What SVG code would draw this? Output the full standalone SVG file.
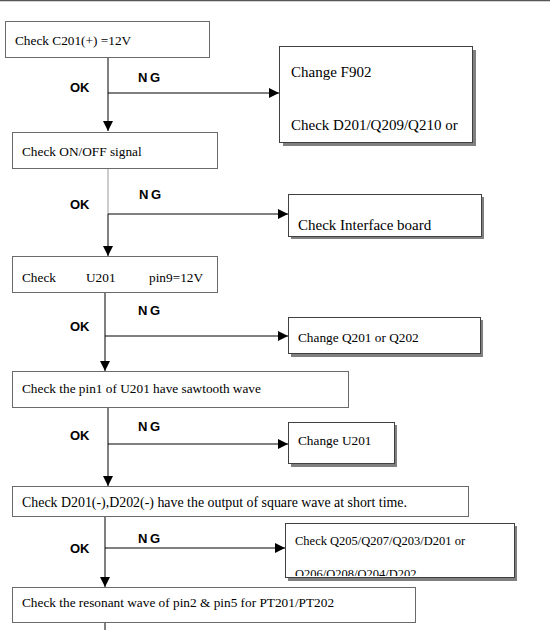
<svg xmlns="http://www.w3.org/2000/svg" width="550" height="630" viewBox="0 0 550 630">
<style>
.box{fill:#fff;stroke:#6a6a6a;stroke-width:1}
.sbox{fill:#fff;stroke:#404040;stroke-width:1}
.shadow{fill:#808080;stroke:none}
.t{font-family:"Liberation Serif","Times New Roman",serif;font-size:13.3px;fill:#000}
.tl{font-family:"Liberation Serif","Times New Roman",serif;font-size:15px;fill:#000}
.lbl{font-family:"Liberation Sans",Arial,sans-serif;font-size:13px;font-weight:bold;fill:#000}
.ng{letter-spacing:2.5px}
.ln{stroke:#000;stroke-width:1;fill:none}
.arr{marker-end:url(#ah)}
</style>
<defs>
<marker id="ah" markerUnits="userSpaceOnUse" markerWidth="10" markerHeight="10" refX="10" refY="5" orient="auto">
<path d="M0,0 L10,5 L0,10 Z" fill="#000"/>
</marker>
<clipPath id="clipQ205"><rect x="285" y="523" width="229" height="53"/></clipPath>
</defs>
<rect width="550" height="630" fill="#fff"/>
<line x1="0" y1="0.5" x2="550" y2="0.5" stroke="#555" stroke-width="1.5"/>

<g id="connectors">
<line class="ln arr" x1="108" y1="57" x2="108" y2="131"/>
<line class="ln arr" x1="108" y1="93" x2="279" y2="93"/>
<line x1="108" y1="168" x2="108" y2="214" stroke="#999" stroke-width="1"/>
<line class="ln arr" x1="108" y1="214" x2="108" y2="256"/>
<line class="ln arr" x1="108" y1="214" x2="288" y2="214"/>
<line class="ln arr" x1="105" y1="292" x2="105" y2="371"/>
<line class="ln arr" x1="105" y1="336" x2="288" y2="336"/>
<line class="ln arr" x1="108" y1="407" x2="108" y2="486"/>
<line class="ln arr" x1="108" y1="444" x2="288" y2="444"/>
<line class="ln arr" x1="105" y1="516" x2="105" y2="587"/>
<line class="ln arr" x1="105" y1="548" x2="285" y2="548"/>
<line class="ln" x1="105" y1="622" x2="105" y2="630"/>
<text class="lbl" x="70" y="92">OK</text>
<text class="lbl ng" x="138" y="82">NG</text>
<text class="lbl" x="70" y="209">OK</text>
<text class="lbl ng" x="139" y="199">NG</text>
<text class="lbl" x="70" y="331">OK</text>
<text class="lbl ng" x="138" y="315">NG</text>
<text class="lbl" x="70" y="440">OK</text>
<text class="lbl ng" x="138" y="431">NG</text>
<text class="lbl" x="70" y="553">OK</text>
<text class="lbl ng" x="138" y="543">NG</text>
</g>

<g id="n1">
<rect class="box" x="5.5" y="21.5" width="204" height="36"/>
<text class="t" x="15" y="45">Check C201(+) =12V</text>
</g>

<g id="n1ng">
<rect class="shadow" x="283" y="50" width="193" height="96"/>
<rect class="sbox" x="279.5" y="46.5" width="193" height="96"/>
<text class="tl" x="291" y="77">Change F902</text>
<text class="tl" x="291" y="130">Check D201/Q209/Q210 or</text>
</g>

<g id="n2">
<rect class="box" x="12.5" y="132.5" width="205" height="36"/>
<text class="t" x="22" y="156">Check ON/OFF signal</text>
</g>

<g id="n2ng">
<rect class="shadow" x="291" y="197" width="193" height="42"/>
<rect class="sbox" x="288.5" y="194.5" width="193" height="42"/>
<text class="tl" x="298" y="230">Check Interface board</text>
</g>

<g id="n3">
<rect class="box" x="12.5" y="256.5" width="205" height="36"/>
<text class="t" x="22" y="282">Check</text>
<text class="t" x="86" y="282">U201</text>
<text class="t" x="149" y="282">pin9=12V</text>
</g>

<g id="n3ng">
<rect class="shadow" x="291" y="320" width="192" height="37"/>
<rect class="sbox" x="288.5" y="317.5" width="192" height="36"/>
<text class="t" x="298" y="342">Change Q201 or Q202</text>
</g>

<g id="n4">
<rect class="box" x="12.5" y="371.5" width="336" height="36"/>
<text class="t" x="22" y="393">Check the pin1 of U201 have sawtooth wave</text>
</g>

<g id="n4ng">
<rect class="shadow" x="291" y="425" width="106" height="42"/>
<rect class="sbox" x="288.5" y="422.5" width="106" height="41"/>
<text class="t" x="298" y="445">Change U201</text>
</g>

<g id="n5">
<rect class="box" x="12.5" y="486.5" width="456" height="30"/>
<text class="t" x="22" y="507" style="font-size:13.9px">Check D201(-),D202(-) have the output of square wave at short time.</text>
</g>

<g id="n5ng">
<rect class="shadow" x="288" y="526" width="229" height="55"/>
<rect class="sbox" x="285.5" y="523.5" width="229" height="54"/>
<g clip-path="url(#clipQ205)">
<text class="t" x="295" y="545" style="font-size:12.5px">Check Q205/Q207/Q203/D201 or</text>
<text class="t" x="295" y="577.5" style="font-size:12.5px">Q206/Q208/Q204/D202</text>
</g>
</g>

<g id="n6">
<rect class="box" x="12.5" y="587.5" width="403" height="35"/>
<text class="t" x="22" y="607">Check the resonant wave of pin2 &amp; pin5 for PT201/PT202</text>
</g>
</svg>
